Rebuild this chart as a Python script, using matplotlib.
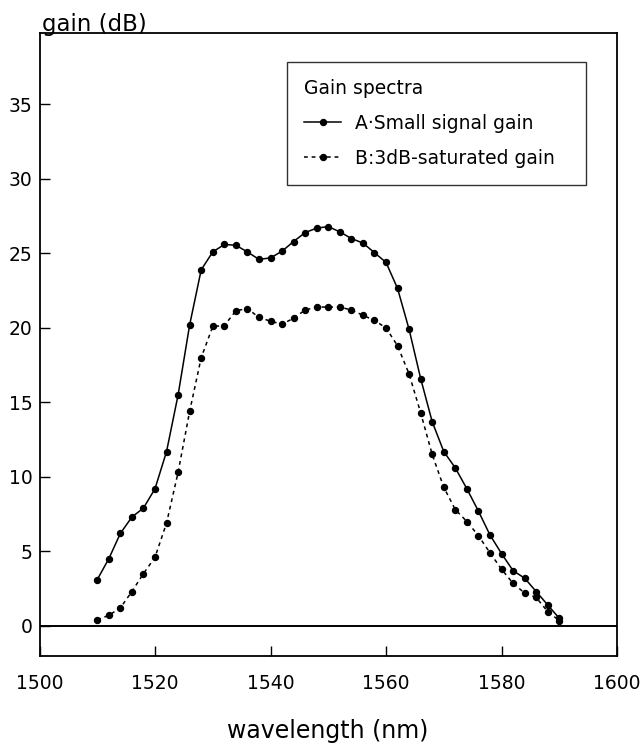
import numpy as np
import matplotlib
matplotlib.use("Agg")
from matplotlib import pyplot as plt

# wavelength grid (nm), one measured point every 2 nm
wavelength = [1510, 1512, 1514, 1516, 1518, 1520, 1522, 1524, 1526, 1528,
              1530, 1532, 1534, 1536, 1538, 1540, 1542, 1544, 1546, 1548,
              1550, 1552, 1554, 1556, 1558, 1560, 1562, 1564, 1566, 1568,
              1570, 1572, 1574, 1576, 1578, 1580, 1582, 1584, 1586, 1588, 1590]

# A: small signal gain (dB)
gain_small = [3.1, 4.5, 6.2, 7.3, 7.9, 9.2, 11.7, 15.5, 20.2, 23.9,
              25.1, 25.6, 25.55, 25.1, 24.6, 24.7, 25.15, 25.8, 26.4, 26.7,
              26.8, 26.45, 26.0, 25.7, 25.05, 24.4, 22.65, 19.9, 16.6, 13.7,
              11.7, 10.6, 9.2, 7.7, 6.1, 4.85, 3.7, 3.2, 2.3, 1.4, 0.5]

# B: 3dB-saturated gain (dB)
gain_sat = [0.4, 0.7, 1.2, 2.3, 3.5, 4.6, 6.9, 10.3, 14.4, 18.0,
            20.1, 20.15, 21.15, 21.3, 20.7, 20.45, 20.25, 20.65, 21.2, 21.4,
            21.4, 21.4, 21.2, 20.85, 20.5, 20.0, 18.8, 16.9, 14.3, 11.5,
            9.3, 7.8, 7.0, 6.05, 4.9, 3.8, 2.85, 2.2, 1.9, 0.95, 0.35]

x_ticks = [1500, 1520, 1540, 1560, 1580, 1600]
y_ticks = [0, 5, 10, 15, 20, 25, 30, 35]

plt.rcParams['font.family'] = ['DejaVu Sans']

fig = plt.figure(figsize=(6.44, 7.45), dpi=100)
ax = fig.add_axes([39.5 / 644, 1 - 656 / 745, 577.5 / 644, 623 / 745])

ax.plot(wavelength, gain_small, color="black", lw=1.1, marker="o", ms=4.3,
        label="A·Small signal gain")
ax.plot(wavelength, gain_sat, color="black", lw=1.1, ls=(0, (2.5, 2.5)),
        marker="o", ms=4.3, label="B:3dB-saturated gain")
ax.axhline(0, color="black", lw=1.4)

ax.set_xlim(1500, 1600)
ax.set_ylim(-2.03, 39.8)
ax.set_xticks(x_ticks)
ax.set_yticks(y_ticks)
ax.tick_params(direction="in", length=7, width=1, labelsize=13.5)
ax.tick_params(axis="x", pad=13)
ax.tick_params(axis="y", pad=5)
for s in ax.spines.values():
    s.set_linewidth(1.3)

fig.text(42 / 644, 1 - 24 / 745, "gain (dB)", fontsize=16.5, va="center", ha="left")
fig.text(328 / 644, 1 - 731 / 745, "wavelength (nm)", fontsize=17, va="center", ha="center")

# legend box spans x 287..586 px, top at 62 px
leg = ax.legend(title="Gain spectra", loc="upper left",
                bbox_to_anchor=(0.4286, 0.5, 0.5177, 0.4535), mode="expand",
                fontsize=13.5, title_fontsize=13.5, frameon=True, fancybox=False,
                handlelength=2.0, handletextpad=0.7, borderpad=0.9,
                labelspacing=0.85, borderaxespad=0, alignment="left")
leg.get_frame().set_edgecolor("black")
leg.get_frame().set_linewidth(1.0)

fig.savefig("out.png", dpi=100)
